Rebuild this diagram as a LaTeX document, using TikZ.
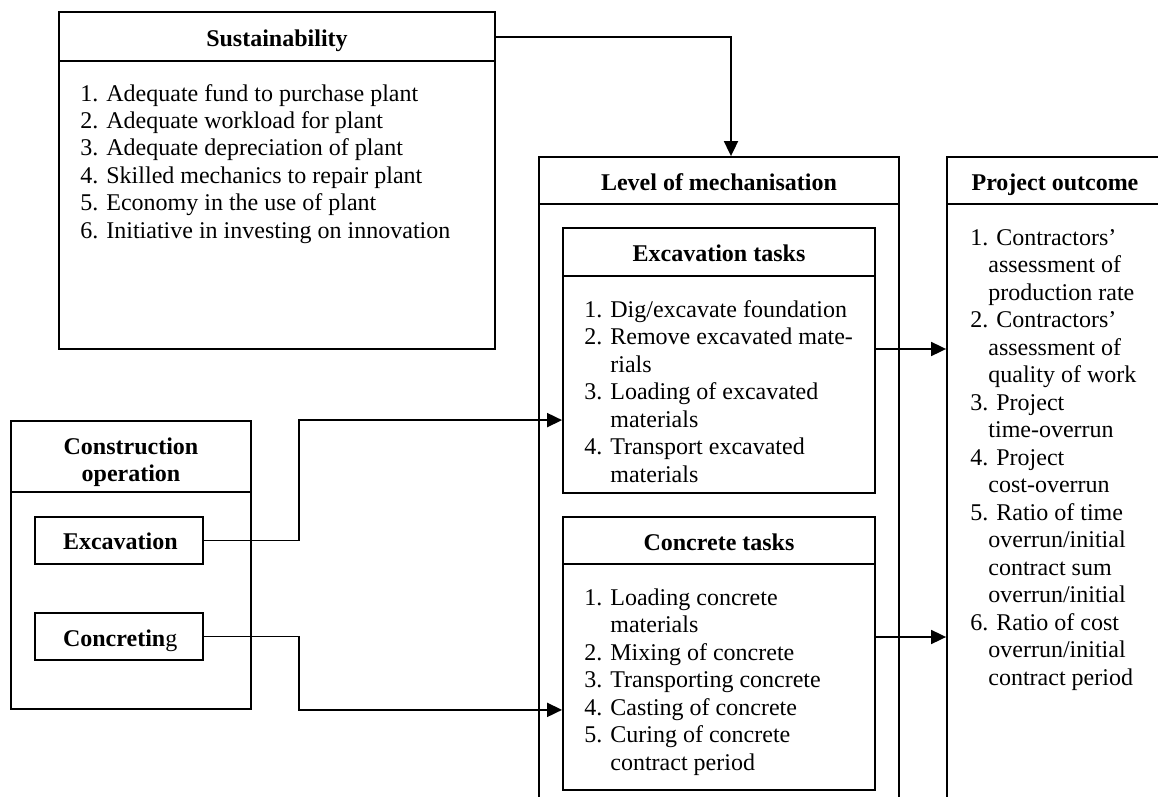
\documentclass[tikz,border=0pt]{standalone}
\usepackage{fontspec}
\setmainfont{Liberation Serif}
\usetikzlibrary{positioning}
\usetikzlibrary{fit}
\usetikzlibrary {arrows.meta}

\tikzset{
  frame/.style={draw, line width=0.9pt, inner sep=0pt},
  conn/.style={line width=0.9pt, -{Triangle[length=7.5pt,width=7pt]}},
}

\begin{document}
\begin{tikzpicture}[x=0.5pt,y=-0.5pt]

\def\labfont{\bfseries\fontsize{12}{13.75}\selectfont}
\def\txtfont{\fontsize{12}{13.75}\selectfont}
\def\ind{\hspace*{9pt}}

\useasboundingbox (0,0) rectangle (1158,797);
\clip (0,0) rectangle (1158,797);

% outer boxes
\node[frame, fit={(59,12) (495,349)}] (sust) {};
\node[frame, fit={(539,157) (899,830)}] (mech) {};
\node[frame, fit={(947,157) (1190,830)}] (outcome) {};
\node[frame, fit={(11,421) (251,709)}] (constr) {};

% inner boxes
\node[frame, fit={(563,228) (875,493)}] (exctasks) {};
\node[frame, fit={(563,517) (875,790)}] (conctasks) {};
\node[frame, fit={(35,517) (203,564)}] (exc) {};
\node[frame, fit={(35,613) (203,660)}] (concr) {};

% header rules
\draw[line width=0.9pt] (sust.west |- 0,61) -- (sust.east |- 0,61);
\draw[line width=0.9pt] (mech.west |- 0,204) -- (mech.east |- 0,204);
\draw[line width=0.9pt] (outcome.west |- 0,204) -- (outcome.east |- 0,204);
\draw[line width=0.9pt] (exctasks.west |- 0,276) -- (exctasks.east |- 0,276);
\draw[line width=0.9pt] (conctasks.west |- 0,564) -- (conctasks.east |- 0,564);
\draw[line width=0.9pt] (constr.west |- 0,492) -- (constr.east |- 0,492);

% titles
\node[font=\labfont,anchor=base] (sustT) at (277,46.5) {Sustainability};
\node[font=\labfont,anchor=base] (mechT) at (719,190.5) {Level of mechanisation};
\node[font=\labfont,anchor=base] (outT) at (1055,190.5) {Project outcome};
\node[font=\labfont,anchor=base] (excT) at (719,261.5) {Excavation tasks};
\node[font=\labfont,anchor=base] (concT) at (719,550) {Concrete tasks};
\node[font=\labfont,align=center] (constrT) at (131,462) {Construction\\operation};
\node[font=\labfont,anchor=base west] (excL) at (56,549) {Excavation};
\node[font=\labfont,anchor=base west] (concrL) at (56,646) {Concretin{\mdseries g}};

% lists (base = last line)
\node[font=\txtfont,align=left,anchor=base west,inner sep=0pt] (sustL) at (80,238.5)
  {1. Adequate fund to purchase plant\\
   2. Adequate workload for plant\\
   3. Adequate depreciation of plant\\
   4. Skilled mechanics to repair plant\\
   5. Economy in the use of plant\\
   6. Initiative in investing on innovation};

\node[font=\txtfont,align=left,anchor=base west,inner sep=0pt] (excLst) at (584,482)
  {1. Dig/excavate foundation\\
   2. Remove excavated mate-\\
   \phantom{2. }rials\\
   3. Loading of excavated\\
   \phantom{3. }materials\\
   4. Transport excavated\\
   \phantom{4. }materials};

\node[font=\txtfont,align=left,anchor=base west,inner sep=0pt] (concLst) at (584,770)
  {1. Loading concrete\\
   \phantom{1. }materials\\
   2. Mixing of concrete\\
   3. Transporting concrete\\
   4. Casting of concrete\\
   5. Curing of concrete\\
   \phantom{5. }contract period};

\node[font=\txtfont,anchor=base west,inner sep=0pt] (outLst) at (970,685)
  {\begin{tabular}[b]{@{}l@{}}
   1. Contractors'\\
   \ind assessment of\\
   \ind production rate\\
   2. Contractors'\\
   \ind assessment of\\
   \ind quality of work\\
   3. Project\\
   \ind time-overrun\\
   4. Project\\
   \ind cost-overrun\\
   5. Ratio of time\\
   \ind overrun/initial\\
   \ind contract sum\\
   \ind overrun/initial\\
   6. Ratio of cost\\
   \ind overrun/initial\\
   \ind contract period
   \end{tabular}};

\coordinate (excout) at ([yshift=5.75pt]exctasks.east);
\coordinate (concout) at ([yshift=8.25pt]conctasks.east);

% connectors
\draw[conn] (sust.east |- 0,37) -| ([xshift=6pt]mech.north);
\draw[conn] (exc.east) -| ([xshift=23.5pt]constr.north east) -- (constr.north east -| exctasks.west);
\draw[conn] (concr.east) -| ([xshift=23.5pt]constr.south east) -- (constr.south east -| conctasks.west);
\draw[conn] (excout) -- (excout -| outcome.west);
\draw[conn] (concout) -- (concout -| outcome.west);
\end{tikzpicture}
\end{document}
